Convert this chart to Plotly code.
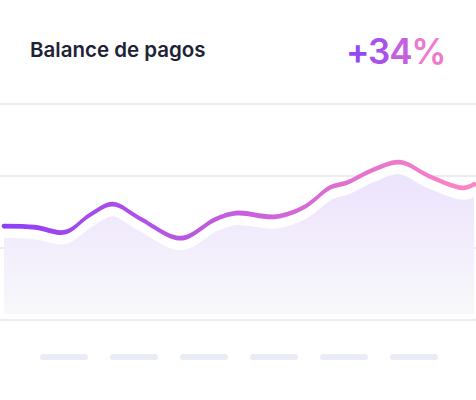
import plotly.graph_objects as go

# ---- data ----
x_pos = [4, 35, 65, 90, 113, 140, 181, 215, 236, 276, 305, 330, 347, 373, 400, 430, 463, 474]
balance = [32.6, 32.2, 30.5, 36.5, 40.2, 35.2, 28.4, 34.9, 37.1, 35.9, 39.4, 46.0, 47.7, 52.1, 54.8, 49.8, 45.9, 47.1]
grid_vals = [0, 25, 50, 75]
tick_centers = [64, 134, 204, 274, 344, 414]   # placeholder x tick labels (drawn as pills)
title_text = "Balance de pagos"
change_chars = ["+", "3", "4", "%"]
change_colors = ["#9547F4", "#A653EC", "#C45FDF", "#EE79CD"]

# ---- layout constants ----
W, H = 476, 400
T, B = 60, 20
PX = 2.88                      # pixels per data unit
ZERO_PX = 320                  # pixel row of value 0
y_top = (ZERO_PX - T) / PX
y_bot = (ZERO_PX - (H - B)) / PX
u = 1 / PX                     # one pixel in data units

half_line = 2.4 * u
area_off = 7 * u
area_base = 6 * u
pill_y = -37 * u
pill_half = 21

def py(px):
    return ((H - B) - px) / (H - T - B)

fig = go.Figure()

# area baseline (invisible)
fig.add_trace(go.Scatter(x=x_pos, y=[area_base] * len(x_pos), mode="lines",
                         line=dict(width=0, color="rgba(0,0,0,0)"), hoverinfo="skip", showlegend=False))
# shaded area under the curve, with white top stroke
area_y = [v - area_off for v in balance]
fig.add_trace(go.Scatter(x=x_pos, y=area_y, mode="lines", line=dict(color="white", width=10, shape="spline"),
                         fill="tonexty",
                         fillgradient=dict(type="vertical", start=area_base, stop=max(area_y),
                                           colorscale=[[0, "#F8F8FA"], [1, "#ECE2FD"]]),
                         hoverinfo="skip", showlegend=False))

# gradient line drawn as a thin filled band
fig.add_trace(go.Scatter(x=x_pos, y=[v + half_line for v in balance], mode="lines",
                         line=dict(width=0, shape="spline", color="rgba(0,0,0,0)"),
                         hoverinfo="skip", showlegend=False))
fig.add_trace(go.Scatter(x=x_pos, y=[v - half_line for v in balance], mode="lines",
                         line=dict(width=0, shape="spline", color="rgba(0,0,0,0)"),
                         fill="tonexty",
                         fillgradient=dict(type="horizontal", start=x_pos[0], stop=x_pos[-1],
                                           colorscale=[[0, "#8E3FF6"], [0.5, "#C65FDD"], [1, "#FF86C3"]]),
                         hoverinfo="skip", showlegend=False))
# round caps
fig.add_trace(go.Scatter(x=[x_pos[0], x_pos[-1]], y=[balance[0], balance[-1]], mode="markers",
                         marker=dict(size=4.8, color=["#8E3FF6", "#FF86C3"], line=dict(width=0)),
                         hoverinfo="skip", showlegend=False))

# placeholder tick labels (pills)
px_list, py_list = [], []
for c in tick_centers:
    px_list += [c - pill_half, c + pill_half, None]
    py_list += [pill_y, pill_y, None]
fig.add_trace(go.Scatter(x=px_list, y=py_list, mode="lines+markers",
                         line=dict(color="#E9ECF4", width=6),
                         marker=dict(size=6, color="#E9ECF4"),
                         hoverinfo="skip", showlegend=False))

fig.update_layout(
    width=W, height=H,
    margin=dict(l=0, r=0, t=T, b=B),
    paper_bgcolor="white", plot_bgcolor="white",
    xaxis=dict(range=[0, W], visible=False, fixedrange=True),
    yaxis=dict(range=[y_bot, y_top], tickvals=grid_vals, showticklabels=False,
               showgrid=True, gridcolor="#E9ECF1", gridwidth=2, zeroline=False,
               showline=False, fixedrange=True),
    showlegend=False,
)

fig.add_annotation(xref="paper", yref="paper", x=28 / W, y=py(49.5), xanchor="left", yanchor="middle",
                   text=title_text, showarrow=False,
                   font=dict(family="Inter", size=20.5, weight=600, color="#1E2235"))
change_html = "".join(f"<span style='color:{c};letter-spacing:-1.2px'>{ch}</span>"
                      for ch, c in zip(change_chars, change_colors))
fig.add_annotation(xref="paper", yref="paper", x=447 / W, y=py(51), xanchor="right", yanchor="middle",
                   text=change_html, showarrow=False,
                   font=dict(family="Inter", size=35, weight=600, color="#A653EC"))

fig.write_html("out.html", config={"displayModeBar": False},
               post_script="document.body.style.margin='0';document.body.style.overflow='hidden';")
